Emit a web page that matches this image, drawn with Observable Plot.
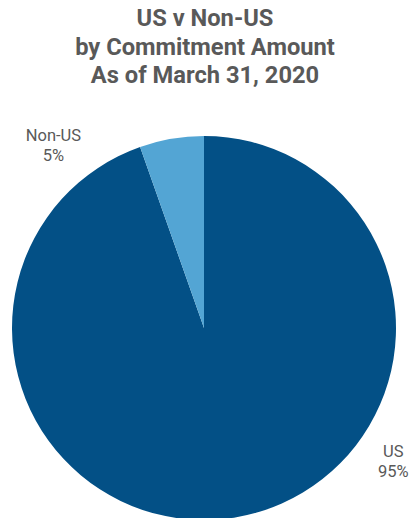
<!DOCTYPE html>
<html>
<head>
<meta charset="utf-8">
<script src="https://cdn.jsdelivr.net/npm/d3@7"></script>
<script src="https://cdn.jsdelivr.net/npm/@observablehq/plot@0.6"></script>
<style>
  html, body { margin: 0; padding: 0; background: #fff; }
  body { width: 410px; height: 518px; overflow: hidden; font-family: Roboto, "Noto Sans", sans-serif; }
  #title { padding-top: 4px; text-align: center; font-weight: bold; font-size: 23.7px; line-height: 28.7px; color: #595959; height: 88px; }
</style>
</head>
<body>
<div id="title">US v Non-US<br>by Commitment Amount<br>As of March 31, 2020</div>
<div id="chart"></div>
<script>
const categories = ["US", "Non-US"];
const values = [94.6, 5.4];
const valueLabels = ["95%", "5%"];
const colors = ["#035086", "#53a5d4"];
// label anchor placement (degrees clockwise from top, radius relative to pie radius)
const labelAngles = [125, -39.4];
const labelRadii = [1.2, 1.24];

const data = categories.map((c, i) => ({category: c, value: values[i], label: valueLabels[i], color: colors[i]}));
const arcs = d3.pie().sort(null).value(d => d.value)(data);

const labels = data.map((d, i) => {
  const a = labelAngles[i] * Math.PI / 180;
  return {text: `${d.category}\n${d.label}`, x: labelRadii[i] * Math.sin(a), y: labelRadii[i] * Math.cos(a)};
});

function pieMark(index, scales) {
  const cx = scales.x(0), cy = scales.y(0);
  const r = Math.abs(scales.x(1) - scales.x(0));
  const arc = d3.arc().innerRadius(0).outerRadius(r);
  const g = d3.create("svg:g").attr("transform", `translate(${cx},${cy})`);
  g.selectAll("path").data(arcs).join("path")
    .attr("d", arc)
    .attr("fill", d => d.data.color);
  return g.node();
}

const chart = Plot.plot({
  width: 410,
  height: 426,
  margin: 0,
  x: {domain: [-1, 1], range: [12, 396], axis: null},
  y: {domain: [-1, 1], range: [428, 44], axis: null},
  style: {fontFamily: "Roboto, sans-serif", background: "white"},
  marks: [
    pieMark,
    Plot.text(labels, {x: "x", y: "y", text: "text", fontSize: 16.5, lineHeight: 1.22, fill: "#595959", textAnchor: "middle", lineAnchor: "middle"})
  ]
});
document.getElementById("chart").appendChild(chart);
</script>
</body>
</html>
